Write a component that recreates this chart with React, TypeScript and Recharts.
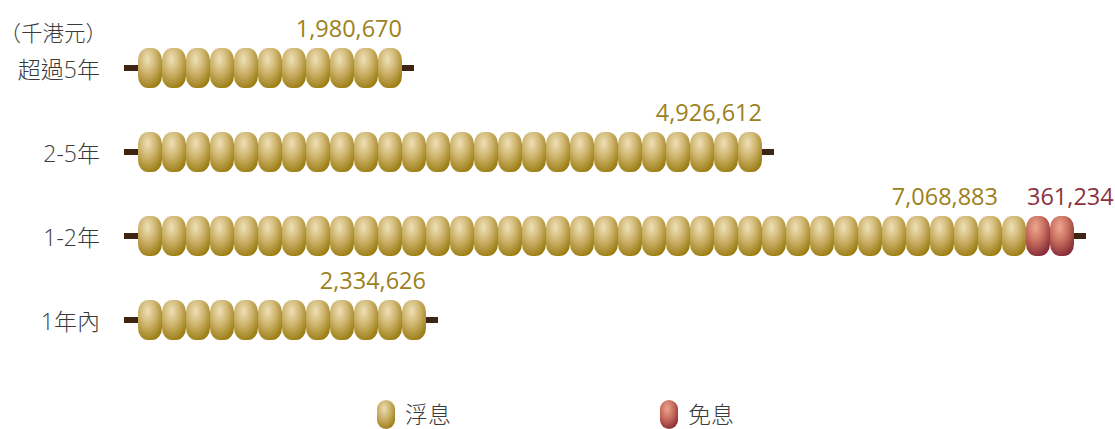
import { BarChart, Bar, XAxis, YAxis, Legend, LabelList } from "recharts";

const categories = ["超過5年", "2-5年", "1-2年", "1年內"];
const floating = [1980670, 4926612, 7068883, 2334626];
const interestFree = [0, 0, 361234, 0];
const unitLabel = "（千港元）";
const seriesNames = ["浮息", "免息"];

const data = categories.map((name, i) => ({
  name,
  float: floating[i],
  free: interestFree[i],
}));

const BEAD = 24;
const FONT = '"Open Sans", "Noto Sans CJK TC", sans-serif';
const CJK_FONT = '"Noto Sans CJK TC", sans-serif';
const GOLD_TEXT = "#9c8121";
const RED_TEXT = "#8c3341";
const LABEL_TEXT = "#3a3a3a";

function Bead({ x, y, h, fill }: { x: number; y: number; h: number; fill: string }) {
  return <rect x={x} y={y} width={BEAD} height={h} rx={10} ry={12} fill={fill} />;
}

function FloatShape(props: any) {
  const { x, y, width, height, payload } = props;
  const k = width / payload.float;
  const n = Math.round(width / BEAD);
  const nFree = Math.round((payload.free * k) / BEAD);
  const cy = y + height / 2;
  const end = x + (n + nFree) * BEAD + 12;
  return (
    <g>
      <rect x={x - 14} y={cy - 3} width={end - x + 14} height={6} fill="#3f2414" />
      {Array.from({ length: n }, (_, i) => (
        <Bead key={i} x={x + i * BEAD} y={y} h={height} fill="url(#goldBead)" />
      ))}
    </g>
  );
}

function FreeShape(props: any) {
  const { x, y, width, height, payload } = props;
  if (!payload.free || width <= 0) return <g />;
  const k = width / payload.free;
  const fw = payload.float * k;
  const start = x - fw + Math.round(fw / BEAD) * BEAD;
  const n = Math.round(width / BEAD);
  return (
    <g>
      {Array.from({ length: n }, (_, i) => (
        <Bead key={i} x={start + i * BEAD} y={y} h={height} fill="url(#redBead)" />
      ))}
    </g>
  );
}

function FloatLabel(props: any) {
  const { x, y, width, index, value } = props;
  const n = Math.round(width / BEAD);
  const shift = data[index].free > 0 ? 28 : 0;
  return (
    <text x={x + n * BEAD - shift} y={y - 11} textAnchor="end" fill={GOLD_TEXT} fontSize={23.5} fontFamily={FONT}>
      {Number(value).toLocaleString("en-US")}
    </text>
  );
}

function FreeLabel(props: any) {
  const { x, y, width, index, value } = props;
  if (!value) return null;
  const k = width / value;
  const fw = data[index].float * k;
  const start = x - fw + Math.round(fw / BEAD) * BEAD;
  return (
    <text x={start + 1} y={y - 11} textAnchor="start" fill={RED_TEXT} fontSize={23.5} fontFamily={FONT}>
      {Number(value).toLocaleString("en-US")}
    </text>
  );
}

function CategoryTick(props: any) {
  const { y, payload, index } = props;
  return (
    <g>
      {index === 0 && (
        <text
          x={107}
          y={y - 35}
          dy="0.35em"
          textAnchor="end"
          fill={LABEL_TEXT}
          fontSize={21.5}
          fontWeight={300}
          fontFamily={CJK_FONT}
        >
          {unitLabel}
        </text>
      )}
      <text
        x={100}
        y={y + 2}
        dy="0.35em"
        textAnchor="end"
        fill={LABEL_TEXT}
        fontSize={23}
        fontWeight={300}
        fontFamily={FONT}
      >
        {payload.value}
      </text>
    </g>
  );
}

function LegendIcon({ gid, light, mid, dark }: { gid: string; light: string; mid: string; dark: string }) {
  return (
    <svg width={18} height={29} style={{ display: "block" }}>
      <defs>
        <radialGradient id={gid} cx="40%" cy="30%" r="80%">
          <stop offset="0%" stopColor={light} />
          <stop offset="50%" stopColor={mid} />
          <stop offset="100%" stopColor={dark} />
        </radialGradient>
      </defs>
      <rect x={0} y={0} width={18} height={29} rx={9} ry={9} fill={`url(#${gid})`} />
    </svg>
  );
}

function renderLegend() {
  const items = [
    { name: seriesNames[0], left: 377, gid: "lg1", light: "#ecdcb0", mid: "#c6ab60", dark: "#957608" },
    { name: seriesNames[1], left: 660, gid: "lg2", light: "#eda48c", mid: "#c3675a", dark: "#7f2233" },
  ];
  return (
    <div style={{ position: "relative", width: 1115, height: 31 }}>
      {items.map((it) => (
        <div
          key={it.name}
          style={{
            position: "absolute",
            left: it.left,
            top: 0,
            height: 31,
            display: "flex",
            alignItems: "center",
            gap: 10,
          }}
        >
          <LegendIcon gid={it.gid} light={it.light} mid={it.mid} dark={it.dark} />
          <span style={{ fontFamily: FONT, fontSize: 23, fontWeight: 300, lineHeight: "31px", color: LABEL_TEXT }}>
            {it.name}
          </span>
        </div>
      ))}
    </div>
  );
}

export default function App() {
  return (
    <div style={{ position: "absolute", left: 0, top: 0, background: "#fff" }}>
      <BarChart
        width={1115}
        height={429}
        data={data}
        layout="vertical"
        margin={{ top: 26, right: 17, bottom: 37, left: 0 }}
        barSize={40}
      >
        <defs>
          <radialGradient id="goldBead" cx="40%" cy="28%" r="80%">
            <stop offset="0%" stopColor="#eee0b8" />
            <stop offset="45%" stopColor="#cdb36c" />
            <stop offset="100%" stopColor="#967708" />
          </radialGradient>
          <radialGradient id="redBead" cx="40%" cy="28%" r="80%">
            <stop offset="0%" stopColor="#efa892" />
            <stop offset="45%" stopColor="#c9705f" />
            <stop offset="100%" stopColor="#7d2233" />
          </radialGradient>
        </defs>
        <XAxis type="number" hide domain={[0, 7542800]} />
        <YAxis
          type="category"
          dataKey="name"
          width={138}
          axisLine={false}
          tickLine={false}
          tick={<CategoryTick />}
          interval={0}
        />
        <Legend content={renderLegend} wrapperStyle={{ left: 0, top: 399, width: 1115, height: 30 }} />
        <Bar dataKey="float" name={seriesNames[0]} stackId="a" shape={<FloatShape />} isAnimationActive={false}>
          <LabelList dataKey="float" content={<FloatLabel />} />
        </Bar>
        <Bar dataKey="free" name={seriesNames[1]} stackId="a" shape={<FreeShape />} isAnimationActive={false}>
          <LabelList dataKey="free" content={<FreeLabel />} />
        </Bar>
      </BarChart>
    </div>
  );
}
